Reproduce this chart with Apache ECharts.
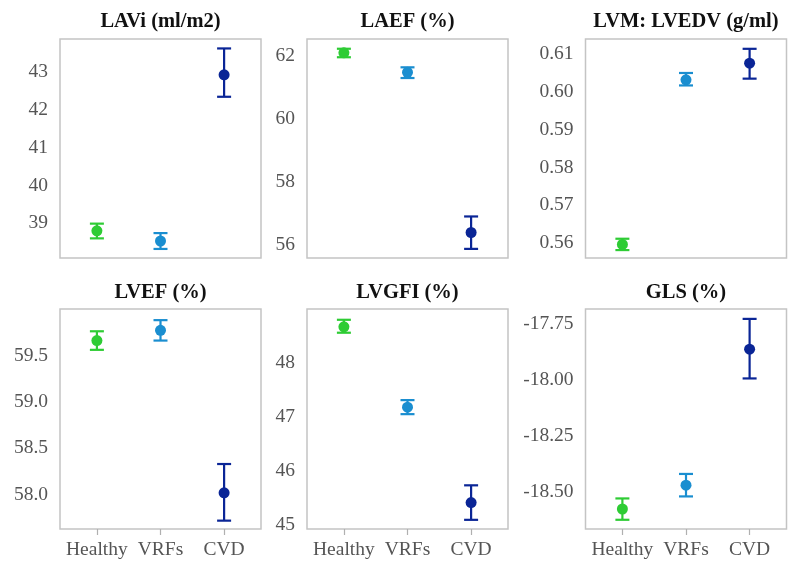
<!DOCTYPE html>
<html>
<head>
<meta charset="utf-8">
<script src="https://cdn.jsdelivr.net/npm/echarts@6/dist/echarts.min.js"></script>
<style>html,body{margin:0;padding:0;background:#fff}#c{width:800px;height:573px}</style>
</head>
<body>
<div id="c"></div>
<script>
var categories = ['Healthy', 'VRFs', 'CVD'];
var groupColors = ['#2ecc34', '#1a8ed0', '#0a2596'];
var titles = ['LAVi (ml/m2)', 'LAEF (%)', 'LVM: LVEDV (g/ml)', 'LVEF (%)', 'LVGFI (%)', 'GLS (%)'];

// means and error bar ends per panel
var laviMean = [38.80, 38.53, 42.93];
var laviLow  = [38.60, 38.32, 42.35];
var laviHigh = [38.99, 38.74, 43.63];

var laefMean = [62.09, 61.47, 56.38];
var laefLow  = [61.95, 61.29, 55.86];
var laefHigh = [62.22, 61.63, 56.89];

var lvmMean = [0.5596, 0.6032, 0.6076];
var lvmLow  = [0.5581, 0.6017, 0.6035];
var lvmHigh = [0.5611, 0.6050, 0.6114];

var lvefMean = [59.66, 59.77, 58.02];
var lvefLow  = [59.56, 59.66, 57.72];
var lvefHigh = [59.76, 59.88, 58.33];

var lvgfiMean = [48.67, 47.18, 45.41];
var lvgfiLow  = [48.56, 47.05, 45.09];
var lvgfiHigh = [48.80, 47.31, 45.73];

var glsMean = [-18.576, -18.470, -17.865];
var glsLow  = [-18.624, -18.520, -17.995];
var glsHigh = [-18.529, -18.420, -17.730];

// y-axis tick labels per panel
var laviTicks  = [39, 40, 41, 42, 43];
var laefTicks  = [56, 58, 60, 62];
var lvmTicks   = [0.56, 0.57, 0.58, 0.59, 0.60, 0.61];
var lvefTicks  = [58.0, 58.5, 59.0, 59.5];
var lvgfiTicks = [45, 46, 47, 48];
var glsTicks   = [-18.50, -18.25, -18.00, -17.75];

var panels = [
  {mean: laviMean, low: laviLow, high: laviHigh, ticks: laviTicks, dec: 0, min: 38.08, max: 43.88},
  {mean: laefMean, low: laefLow, high: laefHigh, ticks: laefTicks, dec: 0, min: 55.57, max: 62.53},
  {mean: lvmMean, low: lvmLow, high: lvmHigh, ticks: lvmTicks, dec: 2, min: 0.5560, max: 0.6140},
  {mean: lvefMean, low: lvefLow, high: lvefHigh, ticks: lvefTicks, dec: 1, min: 57.63, max: 60.00},
  {mean: lvgfiMean, low: lvgfiLow, high: lvgfiHigh, ticks: lvgfiTicks, dec: 0, min: 44.92, max: 49.00},
  {mean: glsMean, low: glsLow, high: glsHigh, ticks: glsTicks, dec: 2, min: -18.665, max: -17.686}
];

var lefts = [60, 307, 585.5];
var tops = [39, 309];
var gw = 201, ghs = [219, 220];
var font = 'Liberation Serif';

var grids = [], xAxes = [], yAxes = [], series = [], graphics = [];
panels.forEach(function (p, i) {
  var col = i % 3, row = Math.floor(i / 3);
  grids.push({left: lefts[col], top: tops[row], width: gw, height: ghs[row], show: true,
    borderColor: '#c4c4c4', borderWidth: 1.5, backgroundColor: '#fff'});
  xAxes.push({type: 'value', gridIndex: i, min: -0.58, max: 2.58,
    axisLine: {show: false}, splitLine: {show: false},
    axisTick: {show: row === 1, length: 6, lineStyle: {color: '#b0b0b0', width: 1.2}, customValues: [0, 1, 2]},
    axisLabel: {show: row === 1, customValues: [0, 1, 2], margin: 11, color: '#555', fontFamily: font, fontSize: 19.5,
      formatter: function (v) { return categories[Math.round(v)]; }}
  });
  yAxes.push({type: 'value', gridIndex: i, min: p.min, max: p.max,
    axisLine: {show: false}, axisTick: {show: false}, splitLine: {show: false},
    axisLabel: {customValues: p.ticks, margin: 12, color: '#555', fontFamily: font, fontSize: 19.5,
      formatter: (function (d) { return function (v) { return v.toFixed(d); }; })(p.dec)}
  });
  var errData = categories.map(function (c, k) { return [k, p.low[k], p.high[k]]; });
  series.push({type: 'custom', xAxisIndex: i, yAxisIndex: i, data: errData, z: 2,
    renderItem: function (params, api) {
      var x = api.value(0);
      var a = api.coord([x, api.value(1)]), b = api.coord([x, api.value(2)]);
      var hw = 7;
      var st = {stroke: groupColors[Math.round(x)], lineWidth: 2.2};
      return {type: 'group', children: [
        {type: 'line', shape: {x1: a[0], y1: a[1], x2: b[0], y2: b[1]}, style: st},
        {type: 'line', shape: {x1: a[0] - hw, y1: a[1], x2: a[0] + hw, y2: a[1]}, style: st},
        {type: 'line', shape: {x1: b[0] - hw, y1: b[1], x2: b[0] + hw, y2: b[1]}, style: st}
      ]};
    }
  });
  series.push({type: 'scatter', xAxisIndex: i, yAxisIndex: i, symbolSize: 11, z: 3,
    data: categories.map(function (c, k) {
      return {value: [k, p.mean[k]], itemStyle: {color: groupColors[k], opacity: 1}};
    })
  });
  graphics.push({type: 'text', x: lefts[col] + gw / 2, y: row === 0 ? 21.5 : 293,
    style: {text: titles[i], font: 'bold 20.5px "Liberation Serif"', fill: '#111', textAlign: 'center', textVerticalAlign: 'middle'}});
});

var chart = echarts.init(document.getElementById('c'), null, {renderer: 'canvas'});
chart.setOption({
  animation: false,
  backgroundColor: '#fff',
  grid: grids, xAxis: xAxes, yAxis: yAxes, series: series, graphic: graphics
});
</script>
</body>
</html>
